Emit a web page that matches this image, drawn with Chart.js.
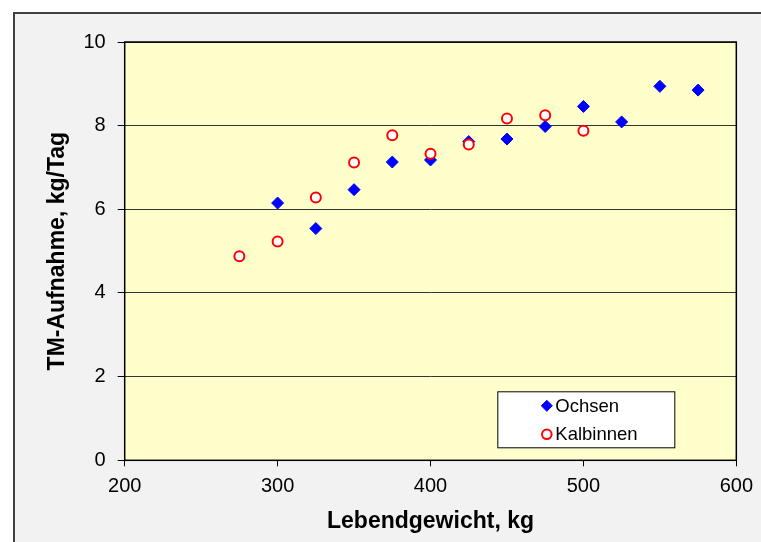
<!DOCTYPE html>
<html>
<head>
<meta charset="utf-8">
<script src="https://cdn.jsdelivr.net/npm/chart.js"></script>
<style>
    html, body { margin: 0; padding: 0; background: #fff; }
    #wrap { width: 761px; height: 542px; }
</style>
</head>
<body>
<div id="wrap"><canvas id="myChart" width="761" height="542"></canvas></div>
<script>
// =============================================
// TM-Aufnahme vs. Lebendgewicht (scatter)
// =============================================

const ochsenX = [300, 325, 350, 375, 400, 425, 450, 475, 500, 525, 550, 575];
const ochsenY = [6.15, 5.54, 6.47, 7.13, 7.18, 7.62, 7.68, 7.98, 8.46, 8.09, 8.94, 8.85];

const kalbinnenX = [275, 300, 325, 350, 375, 400, 425, 450, 475, 500];
const kalbinnenY = [4.88, 5.23, 6.28, 7.12, 7.77, 7.33, 7.55, 8.17, 8.25, 7.88];

const xTicks = [200, 300, 400, 500, 600];
const yTicks = [0, 2, 4, 6, 8, 10];

const FONT = "'Liberation Sans', Arial, sans-serif";

const toPoints = (xs, ys) => xs.map((x, i) => ({ x: x, y: ys[i] }));

// frame, plot background, plot border
const framePlugin = {
    id: "frame",
    beforeDraw(chart) {
        const { ctx, chartArea: a } = chart;
        ctx.save();
        ctx.fillStyle = "#fff";
        ctx.fillRect(0, 0, chart.width, chart.height);
        ctx.fillStyle = "#f2f2f2";
        ctx.fillRect(14, 13, chart.width, chart.height);
        ctx.strokeStyle = "#404040";
        ctx.lineWidth = 2;
        ctx.beginPath();
        ctx.moveTo(14, chart.height + 5);
        ctx.lineTo(14, 13);
        ctx.lineTo(chart.width + 5, 13);
        ctx.stroke();
        ctx.fillStyle = "#ffffcc";
        ctx.fillRect(a.left, a.top, a.right - a.left, a.bottom - a.top);
        ctx.restore();
    },
    beforeDatasetsDraw(chart) {
        const { ctx, chartArea: a } = chart;
        ctx.save();
        ctx.strokeStyle = "#000";
        ctx.lineWidth = 1.5;
        ctx.strokeRect(a.left, a.top, a.right - a.left, a.bottom - a.top);
        ctx.restore();
    },
};

// legend box like the original (inside plot, lower right)
const legendBoxPlugin = {
    id: "legendBox",
    afterDatasetsDraw(chart) {
        const { ctx, chartArea: a } = chart;
        const bx = a.right - 239, by = a.bottom - 69, bw = 177, bh = 56;
        ctx.save();
        ctx.fillStyle = "#fff";
        ctx.fillRect(bx, by, bw, bh);
        ctx.strokeStyle = "#000";
        ctx.lineWidth = 1;
        ctx.strokeRect(bx + 0.5, by + 0.5, bw, bh);

        chart.data.datasets.forEach((ds, i) => {
            const cy = by + 14.5 + i * 28.5;
            const cx = bx + 49.5;
            ctx.fillStyle = ds.backgroundColor;
            ctx.strokeStyle = ds.borderColor;
            ctx.lineWidth = ds.borderWidth;
            ctx.beginPath();
            if (ds.pointStyle === "rectRot") {
                ctx.moveTo(cx - 5.5, cy);
                ctx.lineTo(cx, cy - 5.5);
                ctx.lineTo(cx + 5.5, cy);
                ctx.lineTo(cx, cy + 5.5);
                ctx.closePath();
            } else {
                ctx.arc(cx, cy, 4.8, 0, Math.PI * 2);
            }
            ctx.fill();
            ctx.stroke();
            ctx.fillStyle = "#000";
            ctx.font = "18.5px " + FONT;
            ctx.textBaseline = "middle";
            ctx.fillText(ds.label, bx + 58, cy + 1);
        });
        ctx.restore();
    },
};

const config = {
    type: "scatter",
    data: {
        datasets: [
            {
                label: "Ochsen",
                data: toPoints(ochsenX, ochsenY),
                pointStyle: "rectRot",
                radius: 6,
                hoverRadius: 6,
                backgroundColor: "#0000ff",
                borderColor: "#0000ff",
                borderWidth: 1,
                order: 2,
            },
            {
                label: "Kalbinnen",
                data: toPoints(kalbinnenX, kalbinnenY),
                pointStyle: "circle",
                radius: 5,
                hoverRadius: 5,
                backgroundColor: "#ffffff",
                borderColor: "#ff0000",
                borderWidth: 2,
                order: 1,
            },
        ],
    },
    options: {
        responsive: false,
        animation: false,
        layout: { padding: { left: 14, top: 42, right: 23.7, bottom: 0 } },
        plugins: {
            legend: { display: false },
            tooltip: { enabled: false },
        },
        scales: {
            x: {
                type: "linear",
                min: 200,
                max: 600,
                afterBuildTicks: (s) => { s.ticks = xTicks.map((v) => ({ value: v })); },
                afterFit: (s) => { s.height = 81.7; },
                border: { display: false },
                grid: {
                    drawOnChartArea: false,
                    drawTicks: true,
                    tickLength: 6,
                    tickColor: "#000",
                    tickWidth: 1,
                },
                ticks: {
                    color: "#000",
                    padding: 8,
                    font: { family: FONT, size: 20 },
                    maxRotation: 0,
                },
                title: {
                    display: true,
                    text: "Lebendgewicht, kg",
                    color: "#000",
                    font: { family: FONT, size: 23, weight: "bold" },
                    padding: { top: 0, bottom: 7 },
                },
            },
            y: {
                type: "linear",
                min: 0,
                max: 10,
                afterBuildTicks: (s) => { s.ticks = yTicks.map((v) => ({ value: v })); },
                afterFit: (s) => { s.width = 110.7; },
                border: { display: false },
                grid: {
                    color: "#333",
                    lineWidth: 1,
                    tickLength: 7,
                    tickColor: "#000",
                },
                ticks: {
                    color: "#000",
                    padding: 12,
                    font: { family: FONT, size: 20 },
                },
                title: {
                    display: true,
                    text: "TM-Aufnahme, kg/Tag",
                    color: "#000",
                    font: { family: FONT, size: 23, weight: "bold" },
                    padding: { top: 30, bottom: 0 },
                },
            },
        },
    },
    plugins: [framePlugin, legendBoxPlugin],
};

const myChart = new Chart(document.getElementById("myChart"), config);
</script>
</body>
</html>
